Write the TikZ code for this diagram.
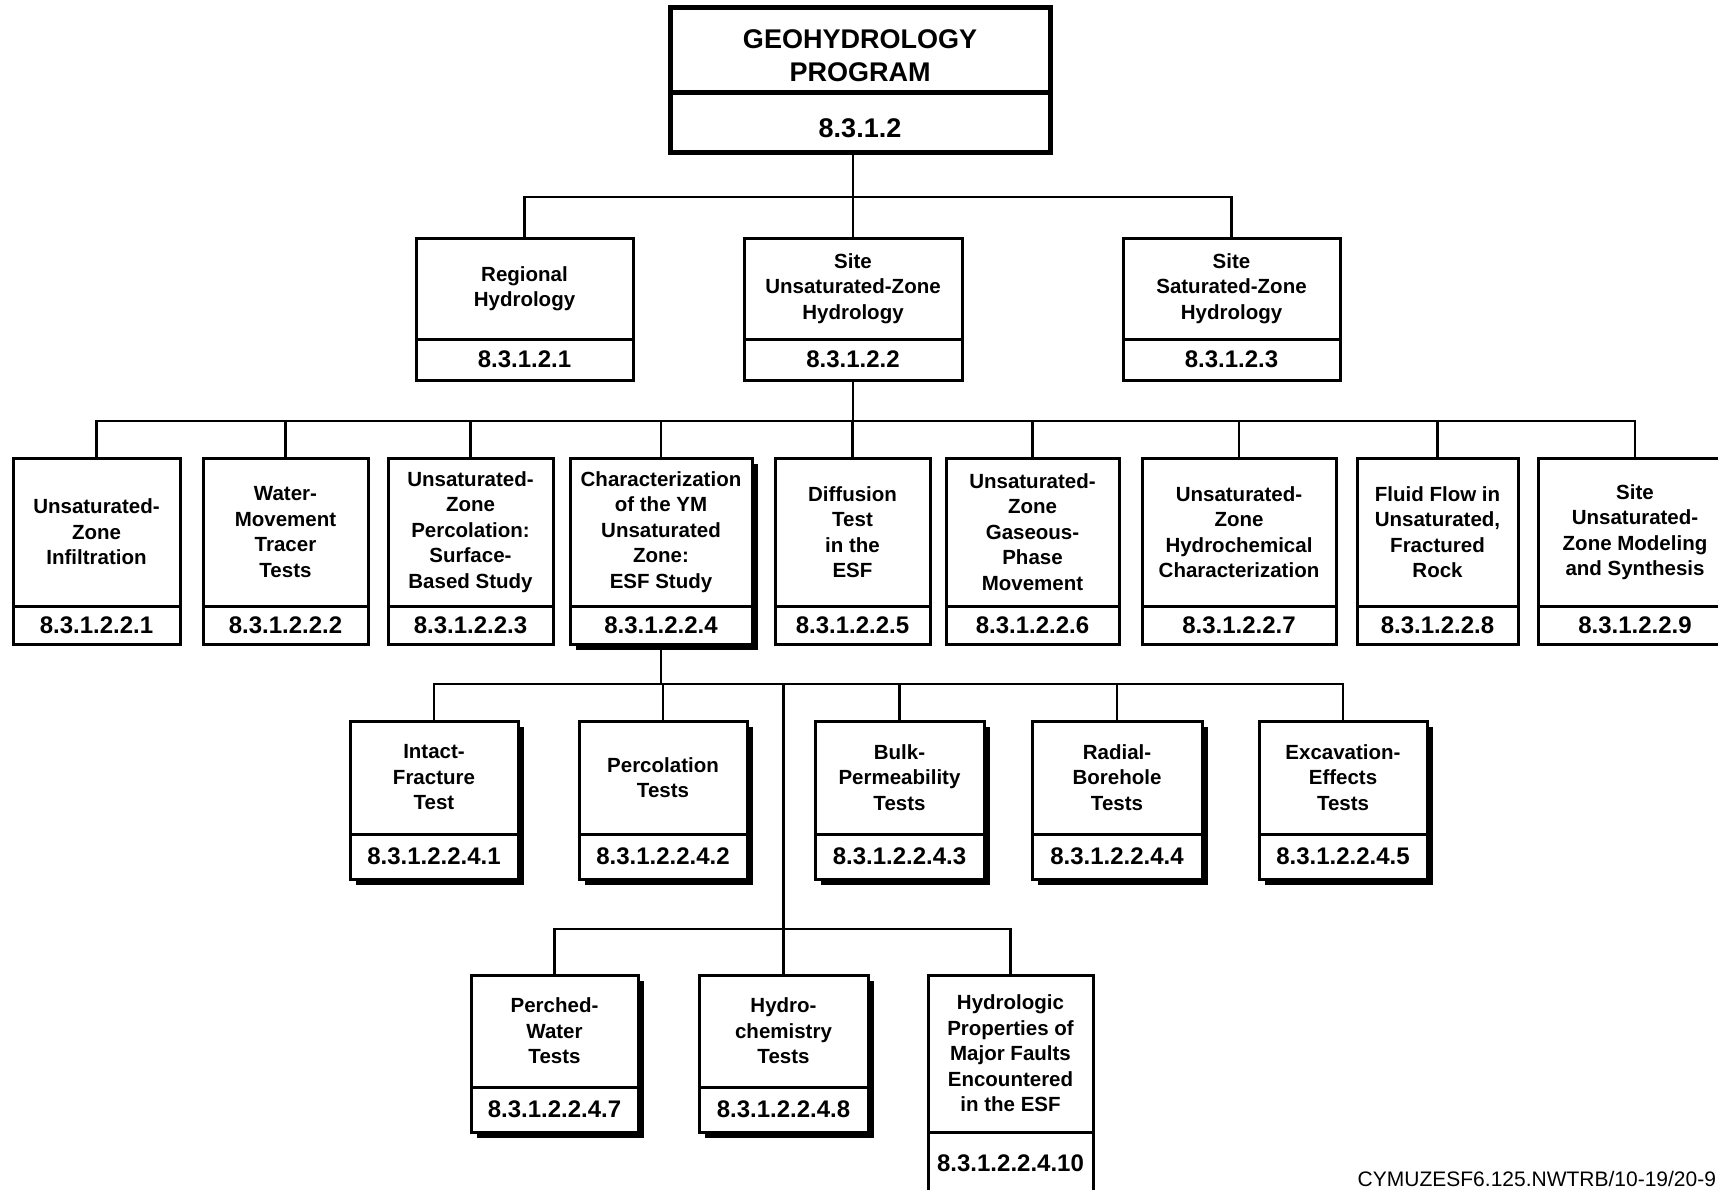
\documentclass[tikz,border=0pt]{standalone}
\usepackage{fontspec}
\setmainfont{Liberation Sans}
\usetikzlibrary{shadows}

% chart box: upper part with the title, lower part with the WBS number
% #1 extra style, #2 name, #3 left, #4 top, #5 right, #6 divider, #7 bottom, #8 title, #9 number
\newcommand\chartbox[9][]{%
  \node[boxtitle,#1,minimum width={(#5-#3)*1pt},minimum height={(#6-#4)*1pt}] (#2) at (#3,#4) {#8};
  \node[boxnum,#1,minimum width={(#5-#3)*1pt},minimum height={(#7-#6)*1pt}] (#2-id) at (#2.south west) {#9};
}
% strut that lowers the text of the program box a little
\newcommand\lowerstrut{\rule{0pt}{31pt}}

\tikzset{
  every node/.style={inner sep=0pt, outer sep=0pt},
  boxtitle/.style={draw, line width=3pt, fill=white, align=center, anchor=north west,
    font=\fontsize{20.5}{25.5}\selectfont\bfseries},
  boxnum/.style={draw, line width=3pt, fill=white, align=center, anchor=north west,
    font=\fontsize{24}{28}\selectfont\bfseries},
  shadowed/.style={drop shadow={shadow xshift=6pt, shadow yshift=-6pt, fill=black, opacity=1}},
  headbox/.style={line width=5pt, font=\fontsize{27}{33}\selectfont\bfseries},
  link/.style={line width=2.2pt},
}

\begin{document}
\begin{tikzpicture}[x=1pt,y=-1pt]
\useasboundingbox (0,0) rectangle (1718,1189);
\fill[white] (0,0) rectangle (1718,1189);

% program
\chartbox[headbox]{top}{670}{7}{1050}{92}{152}{\lowerstrut GEOHYDROLOGY\\PROGRAM}{\lowerstrut 8.3.1.2}

% level 2
\chartbox{reg}{416}{238}{633}{339}{380}{Regional\\Hydrology}{8.3.1.2.1}
\chartbox{unsat}{744}{238}{962}{339}{380}{Site\\Unsaturated-Zone\\Hydrology}{8.3.1.2.2}
\chartbox{sat}{1123}{238}{1340}{339}{380}{Site\\Saturated-Zone\\Hydrology}{8.3.1.2.3}

% level 3
\chartbox{c1}{13}{458}{180}{606}{644}{Unsaturated-\\Zone\\Infiltration}{8.3.1.2.2.1}
\chartbox{c2}{203}{458}{368}{606}{644}{Water-\\Movement\\Tracer\\Tests}{8.3.1.2.2.2}
\chartbox{c3}{388}{458}{553}{606}{644}{Unsaturated-\\Zone\\Percolation:\\Surface-\\Based Study}{8.3.1.2.2.3}
\chartbox[shadowed]{c4}{570}{458}{752}{606}{644}{Characterization\\of the YM\\Unsaturated\\Zone:\\ESF Study}{8.3.1.2.2.4}
\chartbox{c5}{775}{458}{930}{606}{644}{Diffusion\\Test\\in the\\ESF}{8.3.1.2.2.5}
\chartbox{c6}{946}{458}{1119}{606}{644}{Unsaturated-\\Zone\\Gaseous-\\Phase\\Movement}{8.3.1.2.2.6}
\chartbox{c7}{1142}{458}{1336}{606}{644}{Unsaturated-\\Zone\\Hydrochemical\\Characterization}{8.3.1.2.2.7}
\chartbox{c8}{1357}{458}{1518}{606}{644}{Fluid Flow in\\Unsaturated,\\Fractured\\Rock}{8.3.1.2.2.8}
\chartbox{c9}{1538}{458}{1732}{606}{644}{Site\\Unsaturated-\\Zone Modeling\\and Synthesis}{8.3.1.2.2.9}

% level 4
\chartbox[shadowed]{p1}{350}{721}{518}{834}{879}{Intact-\\Fracture\\Test}{8.3.1.2.2.4.1}
\chartbox[shadowed]{p2}{579}{721}{747}{834}{879}{Percolation\\Tests}{8.3.1.2.2.4.2}
\chartbox[shadowed]{p3}{815}{721}{984}{834}{879}{Bulk-\\Permeability\\Tests}{8.3.1.2.2.4.3}
\chartbox[shadowed]{p4}{1032}{721}{1202}{834}{879}{Radial-\\Borehole\\Tests}{8.3.1.2.2.4.4}
\chartbox[shadowed]{p5}{1259}{721}{1427}{834}{879}{Excavation-\\Effects\\Tests}{8.3.1.2.2.4.5}

% level 5
\chartbox[shadowed]{q1}{471}{975}{638}{1087}{1132}{Perched-\\Water\\Tests}{8.3.1.2.2.4.7}
\chartbox[shadowed]{q2}{699}{975}{868}{1087}{1132}{Hydro-\\chemistry\\Tests}{8.3.1.2.2.4.8}
\chartbox{q3}{928}{975}{1093}{1132}{1194}{Hydrologic\\Properties of\\Major Faults\\Encountered\\in the ESF}{8.3.1.2.2.4.10}

% connector buses
\coordinate (busA) at (0,197);
\coordinate (busB) at (0,421);
\coordinate (busC) at (0,684);
\coordinate (busD) at (0,929);

\draw[link] (unsat.north |- top-id.south) -- (unsat.north);
\draw[link] (reg.north) -- (reg.north |- busA) -- (sat.north |- busA) -- (sat.north);

\draw[link] (unsat-id.south) -- (unsat-id.south |- busB);
\draw[link] (c1.north) -- (c1.north |- busB) -- (c9.north |- busB) -- (c9.north);
\foreach \n in {c2,c3,c4,c5,c6,c7,c8}
  \draw[link] (\n.north) -- (\n.north |- busB);

\draw[link] (c4-id.south) -- (c4-id.south |- busC);
\draw[link] (p1.north) -- (p1.north |- busC) -- (p5.north |- busC) -- (p5.north);
\foreach \n in {p2,p3,p4}
  \draw[link] (\n.north) -- (\n.north |- busC);
\draw[link] (q2.north |- busC) -- (q2.north);

\draw[link] (q1.north) -- (q1.north |- busD) -- (q3.north |- busD) -- (q3.north);

% drawing reference
\node[anchor=base east, font=\fontsize{21}{24}\selectfont] (tag) at (1716,1186) {CYMUZESF6.125.NWTRB/10-19/20-9};
\end{tikzpicture}
\end{document}
